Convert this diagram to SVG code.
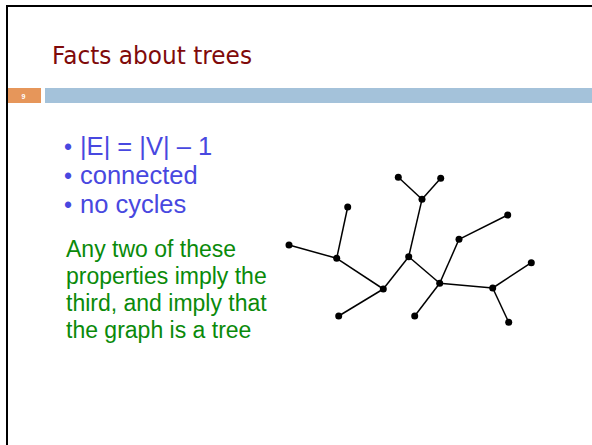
<svg xmlns="http://www.w3.org/2000/svg" width="592" height="445" viewBox="0 0 592 445">
<style>
.edge{stroke:#000;stroke-width:1.5;fill:none}
.node{fill:#000}
.bul{font-family:"Liberation Sans",Arial,sans-serif;font-size:25.5px;fill:#4848e0}
.grn{font-family:"Liberation Sans",Arial,sans-serif;font-size:23px;fill:#0a8a0a}
</style>
<rect width="592" height="445" fill="#fff"/>
<g id="frame">
<line x1="7" y1="6" x2="592" y2="6" stroke="#000" stroke-width="2"/>
<line x1="7" y1="5" x2="7" y2="445" stroke="#000" stroke-width="2"/>
</g>
<g id="title">
<text x="52" y="64" font-family="'DejaVu Sans',sans-serif" font-size="25" fill="#7f0a0a" textLength="200" lengthAdjust="spacingAndGlyphs">Facts about trees</text>
</g>
<g id="header-bar">
<rect x="8" y="88" width="33" height="15" fill="#e6965a"/>
<rect x="45" y="88" width="547" height="15" fill="#a4c2da"/>
<text x="23.5" y="98.5" font-family="'Liberation Sans',Arial,sans-serif" font-size="7" font-weight="bold" fill="#fff" text-anchor="middle">9</text>
</g>
<g id="bullets">
<text class="bul" y="155"><tspan x="64" font-size="23">•</tspan><tspan x="80">|E| = |V| – 1</tspan></text>
<text class="bul" y="184"><tspan x="64" font-size="23">•</tspan><tspan x="80">connected</tspan></text>
<text class="bul" y="213"><tspan x="64" font-size="23">•</tspan><tspan x="80">no cycles</tspan></text>
</g>
<g id="note">
<text class="grn" x="66" y="257">Any two of these</text>
<text class="grn" x="66" y="284">properties imply the</text>
<text class="grn" x="66" y="311">third, and imply that</text>
<text class="grn" x="66" y="338">the graph is a tree</text>
</g>
<g id="connectors">
<line class="edge" x1="398.3" y1="177.3" x2="422" y2="199.3"/>
<line class="edge" x1="440.7" y1="178.3" x2="422" y2="199.3"/>
<line class="edge" x1="422" y1="199.3" x2="408.7" y2="256.7"/>
<line class="edge" x1="347.7" y1="207" x2="336.7" y2="258.3"/>
<line class="edge" x1="289" y1="245" x2="336.7" y2="258.3"/>
<line class="edge" x1="336.7" y1="258.3" x2="383.3" y2="289"/>
<line class="edge" x1="383.3" y1="289" x2="408.7" y2="256.7"/>
<line class="edge" x1="383.3" y1="289" x2="338.7" y2="316"/>
<line class="edge" x1="408.7" y1="256.7" x2="439.7" y2="283.3"/>
<line class="edge" x1="439.7" y1="283.3" x2="459" y2="239.3"/>
<line class="edge" x1="459" y1="239.3" x2="507.7" y2="215"/>
<line class="edge" x1="439.7" y1="283.3" x2="414.7" y2="316"/>
<line class="edge" x1="439.7" y1="283.3" x2="492.7" y2="288"/>
<line class="edge" x1="492.7" y1="288" x2="531.3" y2="262.7"/>
<line class="edge" x1="492.7" y1="288" x2="508.7" y2="322.3"/>
</g>
<g id="n1"><circle class="node" cx="398.3" cy="177.3" r="3.5"/></g>
<g id="n2"><circle class="node" cx="440.7" cy="178.3" r="3.5"/></g>
<g id="n3"><circle class="node" cx="422" cy="199.3" r="3.5"/></g>
<g id="n4"><circle class="node" cx="347.7" cy="207" r="3.5"/></g>
<g id="n5"><circle class="node" cx="507.7" cy="215" r="3.5"/></g>
<g id="n6"><circle class="node" cx="459" cy="239.3" r="3.5"/></g>
<g id="n7"><circle class="node" cx="289" cy="245" r="3.5"/></g>
<g id="n8"><circle class="node" cx="336.7" cy="258.3" r="3.5"/></g>
<g id="n9"><circle class="node" cx="408.7" cy="256.7" r="3.5"/></g>
<g id="n10"><circle class="node" cx="531.3" cy="262.7" r="3.5"/></g>
<g id="n11"><circle class="node" cx="439.7" cy="283.3" r="3.5"/></g>
<g id="n12"><circle class="node" cx="383.3" cy="289" r="3.5"/></g>
<g id="n13"><circle class="node" cx="492.7" cy="288" r="3.5"/></g>
<g id="n14"><circle class="node" cx="338.7" cy="316" r="3.5"/></g>
<g id="n15"><circle class="node" cx="414.7" cy="316" r="3.5"/></g>
<g id="n16"><circle class="node" cx="508.7" cy="322.3" r="3.5"/></g>
</svg>
